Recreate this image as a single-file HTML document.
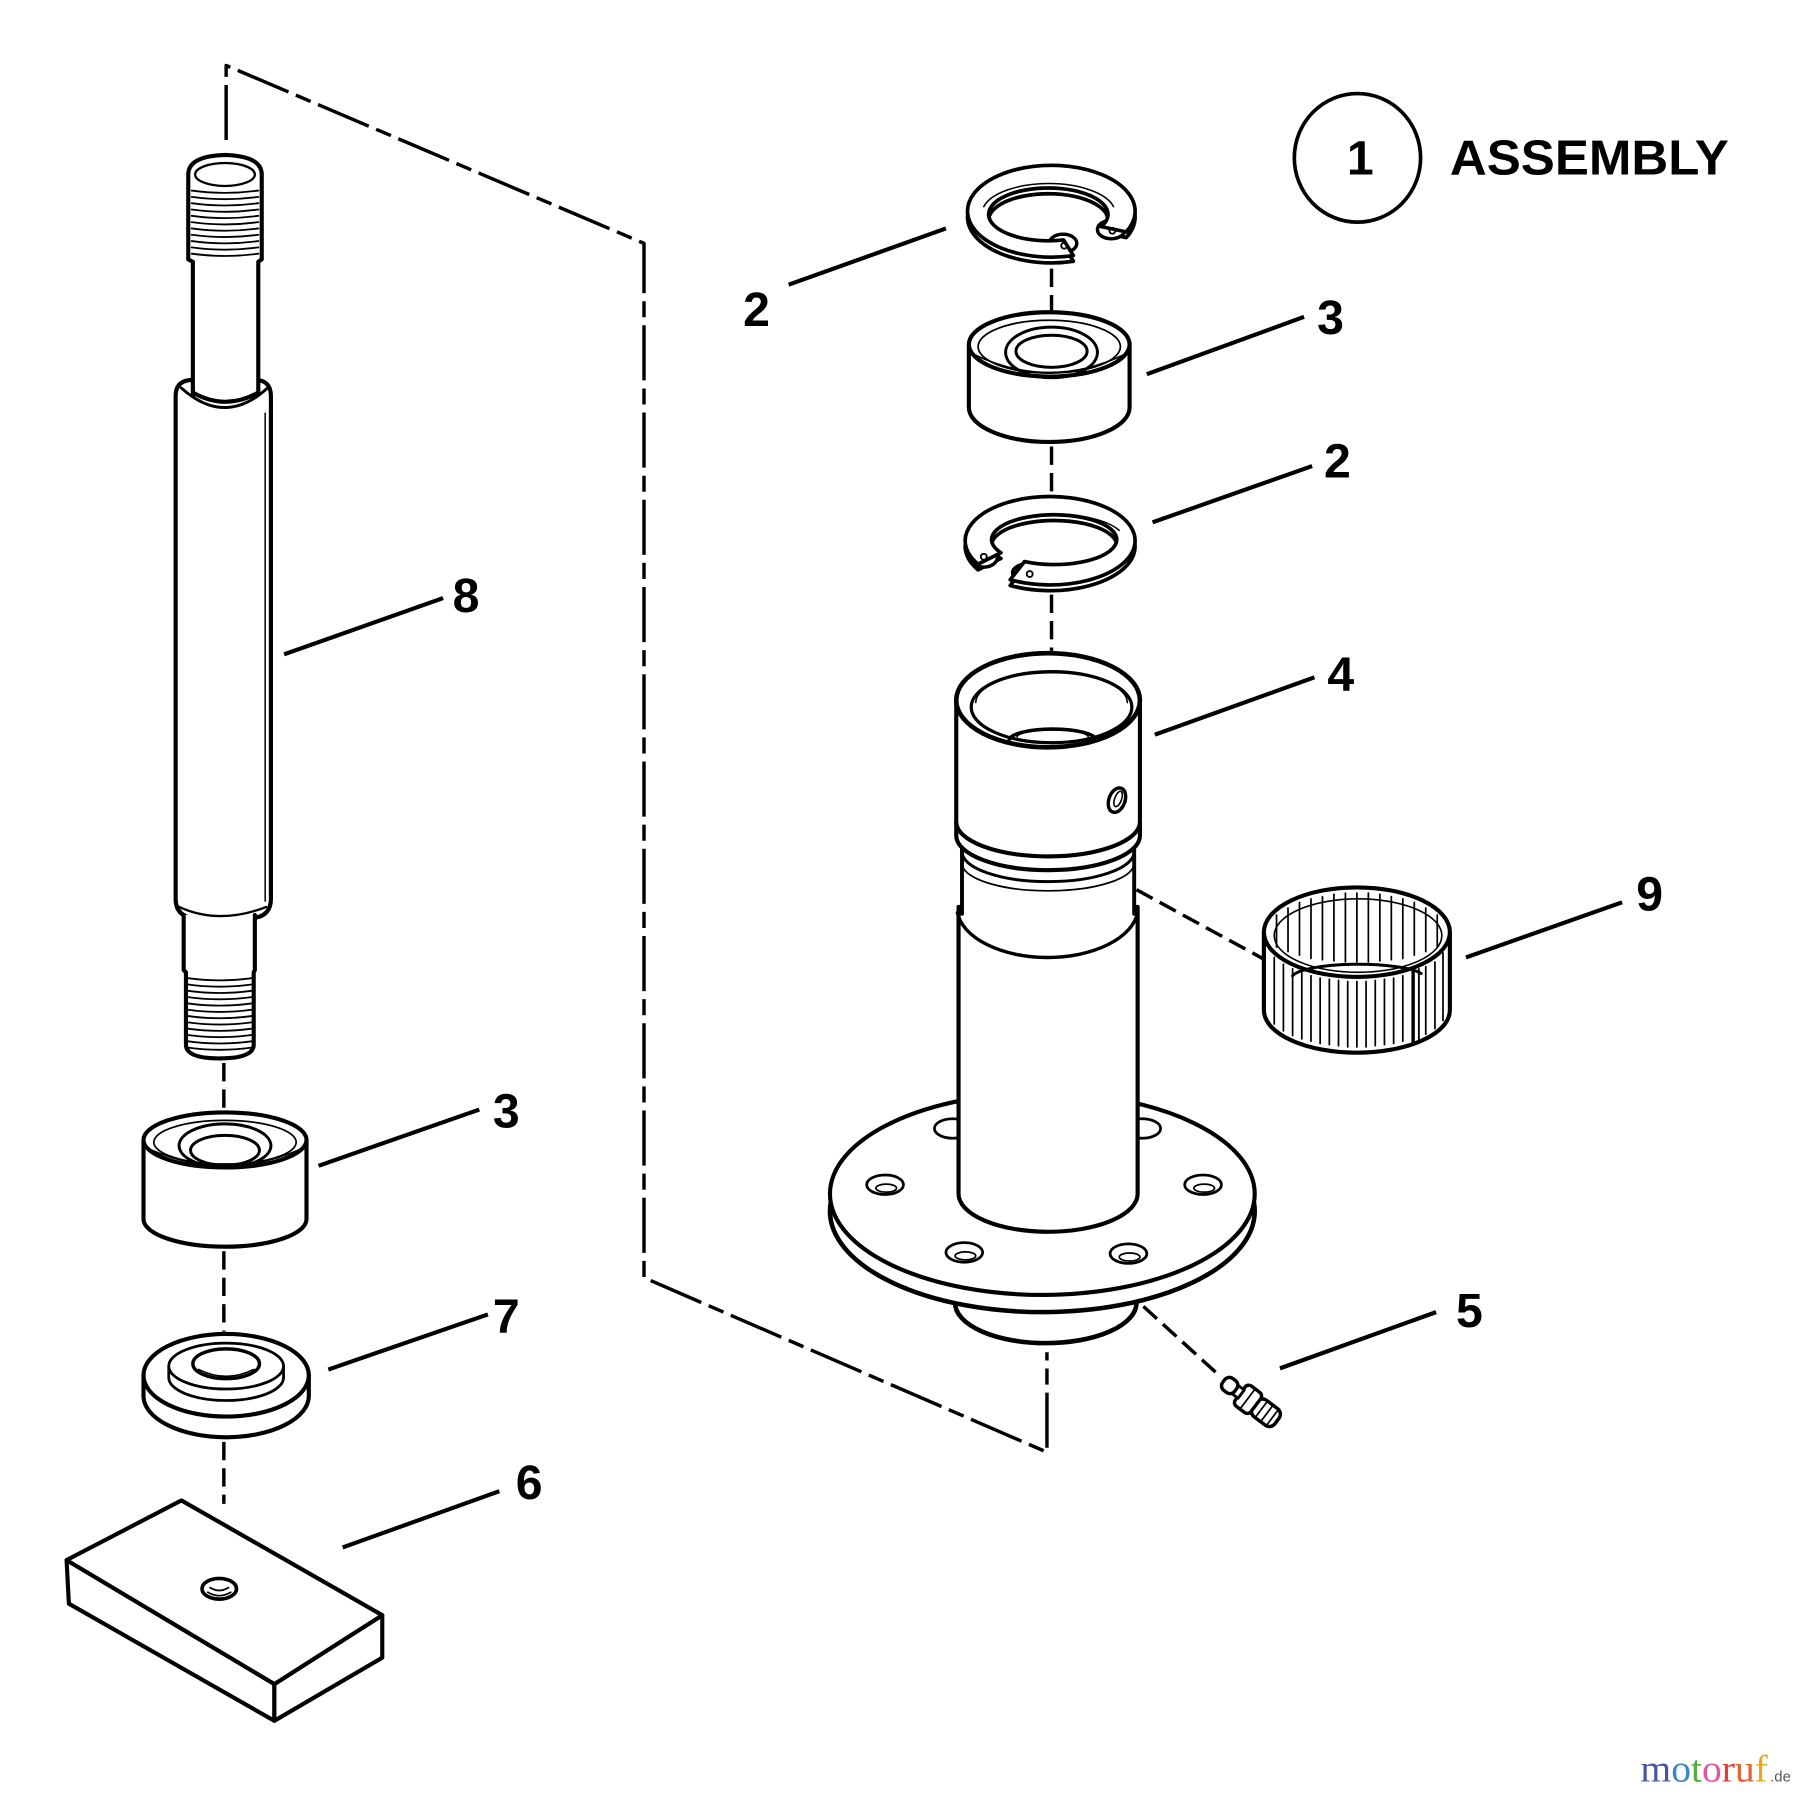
<!DOCTYPE html>
<html><head><meta charset="utf-8">
<style>
html,body{margin:0;padding:0;background:#fff;}
svg{display:block;}
text{font-family:"Liberation Sans",Arial,sans-serif;font-weight:bold;fill:#000;}
</style></head>
<body>
<svg width="1800" height="1796" viewBox="0 0 1568 1564.5" preserveAspectRatio="none" xmlns="http://www.w3.org/2000/svg">
<rect x="0" y="0" width="1568" height="1564.5" fill="#fff"/>
<g fill="none" stroke="#000" stroke-linecap="round" stroke-linejoin="round">

<!-- dashed frame -->
<path d="M197,122 L197,57 L561,212 L561,1113 L912,1265 L912,1178" stroke-width="3" stroke-dasharray="48 7 14 7" stroke-linecap="butt"/>

<!-- ===== SHAFT (8) ===== -->
<path d="M153,345 Q153,331 168,331 L222,331 Q236,331 236,345 L236,783 Q236,799 218,800 L171,800 Q153,799 153,783 Z" fill="#fff" stroke-width="3.6"/>
<line x1="231" y1="360" x2="231" y2="785" stroke-width="1.3"/>
<path d="M158,338 Q196,372 233,338" stroke-width="2.5"/>
<path d="M168,345 L168,228 L164,226 L164,152 Q164,136 196,135 Q228,136 228,152 L228,226 L225,228 L225,342 Q196,358 168,342 Z" fill="#fff" stroke-width="3.6"/>
<ellipse cx="196" cy="152" rx="26" ry="10" stroke-width="2"/>
<g stroke-width="1.6">
<path d="M167,166 Q196,170 225,166"/><path d="M167,171.5 Q196,175.5 225,171.5"/><path d="M167,177 Q196,181 225,177"/><path d="M167,182.5 Q196,186.5 225,182.5"/><path d="M167,188 Q196,192 225,188"/><path d="M167,193.5 Q196,197.5 225,193.5"/><path d="M167,199 Q196,203 225,199"/><path d="M167,204.5 Q196,208.5 225,204.5"/><path d="M167,210 Q196,214 225,210"/><path d="M167,215.5 Q196,219.5 225,215.5"/><path d="M167,221 Q196,225 225,221"/>
</g>
<path d="M160,797 L160,845 L162,847 L162,910 Q162,922 191,922 Q221,922 221,910 L221,847 L222,845 L222,797" fill="#fff" stroke-width="3.6"/>
<path d="M156,790 Q191,806 232,790" stroke-width="2"/>
<g stroke-width="1.6">
<path d="M163,852 Q191,856 220,852"/><path d="M163,857.5 Q191,861.5 220,857.5"/><path d="M163,863 Q191,867 220,863"/><path d="M163,868.5 Q191,872.5 220,868.5"/><path d="M163,874 Q191,878 220,874"/><path d="M163,879.5 Q191,883.5 220,879.5"/><path d="M163,885 Q191,889 220,885"/><path d="M163,890.5 Q191,894.5 220,890.5"/><path d="M163,896 Q191,900 220,896"/><path d="M163,901.5 Q191,905.5 220,901.5"/><path d="M163,907 Q191,911 220,907"/><path d="M163,912.5 Q191,916.5 220,912.5"/>
</g>

<!-- left column dashed -->
<g stroke-width="3" stroke-dasharray="16 7" stroke-linecap="butt">
<line x1="195" y1="926" x2="195" y2="968"/>
<line x1="195" y1="1090" x2="195" y2="1160"/>
<line x1="195" y1="1256" x2="195" y2="1310"/>
</g>

<!-- bearing 3 left -->
<path d="M125,993 L125,1062 A71,24 0 0,0 267,1062 L267,993" fill="#fff" stroke-width="3.6"/>
<ellipse cx="196" cy="993" rx="71" ry="24" fill="#fff" stroke-width="3.6"/>
<path d="M130,1001 Q196,1030 262,1001" stroke-width="1.5"/>
<ellipse cx="196" cy="995" rx="62" ry="19" stroke-width="1.5"/>
<ellipse cx="196" cy="998" rx="40" ry="19" stroke-width="2.6"/>
<ellipse cx="196" cy="1002" rx="30" ry="13" stroke-width="2.6"/>

<!-- part 7 -->
<path d="M125,1198 L125,1216 A72,36 0 0,0 269,1216 L269,1198" fill="#fff" stroke-width="3.6"/>
<ellipse cx="197" cy="1198" rx="72" ry="36" fill="#fff" stroke-width="3.6"/>
<path d="M147,1190 L147,1200 A50,20 0 0,0 247,1200 L247,1190" fill="#fff" stroke-width="2.4"/>
<ellipse cx="197" cy="1190" rx="50" ry="20" fill="#fff" stroke-width="2.4"/>
<ellipse cx="197" cy="1188" rx="29" ry="13" stroke-width="3"/>
<path d="M173,1193 Q197,1205 221,1193" stroke-width="1.5"/>

<!-- part 6 block -->
<path d="M58,1359 L239,1467 L239,1499 L60,1397 Z" fill="#fff" stroke-width="3.6"/>
<path d="M239,1467 L333,1407 L333,1444 L239,1499 Z" fill="#fff" stroke-width="3.6"/>
<path d="M58,1359 L158,1307 L333,1407 L239,1467 Z" fill="#fff" stroke-width="3.6"/>
<ellipse cx="191" cy="1384" rx="15" ry="9" stroke-width="3.2"/>
<path d="M181,1387 Q191,1393 201,1387 M183,1383 Q191,1388 199,1383" stroke-width="1.5"/>

<!-- ===== RIGHT COLUMN ===== -->
<g stroke-width="3" stroke-dasharray="16 7" stroke-linecap="butt">
<line x1="916" y1="234" x2="916" y2="271"/>
<line x1="916" y1="389" x2="916" y2="432"/>
<line x1="916" y1="518" x2="916" y2="567"/>
<line x1="990" y1="775" x2="1100" y2="835"/>
<line x1="996" y1="1138" x2="1063" y2="1199"/>
</g>

<!-- ring 2 top -->
<g transform="translate(0,5)">
<path d="M935,222.6 A73,40 0 1,1 981,202 L959.3,197.4 A52,23 0 1,0 926.5,209 Z" fill="#fff" stroke-width="3.2"/>
</g>
<ellipse cx="926" cy="212" rx="12" ry="8" fill="#fff" stroke-width="3"/>
<ellipse cx="968" cy="200" rx="12" ry="8" fill="#fff" stroke-width="3"/>
<path d="M935,222.6 A73,40 0 1,1 981,202 L959.3,197.4 A52,23 0 1,0 926.5,209 Z" fill="#fff" stroke-width="3.2"/>
<path d="M857,180 A58,26 0 0,1 970,180" stroke-width="1.3"/>
<circle cx="927" cy="214" r="2.6" stroke-width="1.6"/>
<circle cx="969" cy="201" r="2.6" stroke-width="1.6"/>

<!-- bearing 3 top -->
<path d="M844,300 L844,355 A70,30 0 0,0 984,355 L984,300" fill="#fff" stroke-width="3.6"/>
<ellipse cx="914" cy="300" rx="70" ry="28" fill="#fff" stroke-width="3.6"/>
<path d="M849,309 Q914,340 979,309" stroke-width="1.5"/>
<ellipse cx="914" cy="302" rx="62" ry="23" stroke-width="1.5"/>
<ellipse cx="916" cy="307" rx="40" ry="22" stroke-width="2.6"/>
<ellipse cx="916" cy="306" rx="31" ry="14" stroke-width="2.6"/>

<!-- ring 2 middle -->
<g transform="translate(0,5)">
<path d="M880,505 A74,38.5 0 1,0 852,491.4 L871.9,481.5 A54.5,21.7 0 1,1 892.4,489.2 Z" fill="#fff" stroke-width="3.2"/>
</g>
<ellipse cx="857" cy="485" rx="12" ry="9" fill="#fff" stroke-width="3"/>
<ellipse cx="896" cy="499" rx="14" ry="8" fill="#fff" stroke-width="3"/>
<path d="M880,505 A74,38.5 0 1,0 852,491.4 L871.9,481.5 A54.5,21.7 0 1,1 892.4,489.2 Z" fill="#fff" stroke-width="3.2"/>
<path d="M872,458 A60,24 0 0,1 975,462" stroke-width="1.3"/>
<circle cx="857" cy="485" r="2.6" stroke-width="1.6"/>
<circle cx="897" cy="500" r="2.6" stroke-width="1.6"/>

<!-- ===== HUB (4) ===== -->
<path d="M832,1110 L832,1135 A79,35 0 0,0 990,1135 L990,1110 Z" fill="#fff" stroke-width="4"/>
<ellipse cx="908" cy="1055" rx="185" ry="88" fill="#fff" stroke-width="4"/>
<ellipse cx="908" cy="1040" rx="185" ry="88" fill="#fff" stroke-width="3.6"/>
<g stroke-width="2.4" fill="#fff">
<ellipse cx="771" cy="1032" rx="16" ry="8.5"/>
<ellipse cx="1048" cy="1032" rx="16" ry="8.5"/>
<ellipse cx="840" cy="1091" rx="16" ry="8.5"/>
<ellipse cx="983" cy="1092" rx="16" ry="8.5"/>
<ellipse cx="830" cy="983" rx="16" ry="8.5"/>
<ellipse cx="995" cy="983" rx="16" ry="8.5"/>
</g>
<g stroke-width="1.5">
<ellipse cx="772" cy="1035" rx="9" ry="3.5"/>
<ellipse cx="1049" cy="1035" rx="9" ry="3.5"/>
<ellipse cx="841" cy="1094" rx="9" ry="3.5"/>
<ellipse cx="984" cy="1095" rx="9" ry="3.5"/>
</g>
<!-- lower cylinder -->
<path d="M835,790 L835,1040 A78,33 0 0,0 991,1040 L991,790 Z" fill="#fff" stroke-width="3.6"/>
<!-- groove section -->
<path d="M838,735 L838,795 A75,42 0 0,0 988,795 L988,735 Z" fill="#fff" stroke="none"/>
<line x1="838" y1="735" x2="838" y2="796" stroke-width="3.4"/>
<line x1="988" y1="735" x2="988" y2="796" stroke-width="3.4"/>
<path d="M834,795 A79,44 0 0,0 991,795" stroke-width="3"/>
<path d="M838,742 A75,26 0 0,0 988,742" stroke-width="2.6"/>
<path d="M838,752 A75,24 0 0,0 988,752" stroke-width="1.5"/>
<!-- collar -->
<path d="M833,716 L833,728 A80,30 0 0,0 993,728 L993,716 Z" fill="#fff" stroke-width="3.6"/>
<!-- upper cylinder -->
<path d="M833,610 L833,716 A80,30 0 0,0 993,716 L993,610 Z" fill="#fff" stroke-width="3.6"/>
<ellipse cx="913" cy="610" rx="80" ry="41" fill="#fff" stroke-width="4"/>
<ellipse cx="916" cy="616" rx="70" ry="31" stroke-width="2.8"/>
<path d="M850,612 A66,26 0 0,1 982,612" stroke-width="1.4"/>
<path d="M879,645 A38,10 0 0,1 955,645" stroke-width="3"/>
<path d="M886,642 A31,6 0 0,1 948,642" stroke-width="1.4"/>
<ellipse cx="973" cy="697" rx="7" ry="11" transform="rotate(20 973 697)" stroke-width="3"/>
<ellipse cx="974" cy="696" rx="3" ry="7" transform="rotate(20 974 696)" stroke-width="1.4"/>

<!-- ===== PART 9 needle bearing ===== -->
<path d="M1101,812 L1101,880 A81,37 0 0,0 1263,880 L1263,812" fill="#fff" stroke-width="3.6"/>
<ellipse cx="1182" cy="812" rx="81" ry="39" fill="#fff" stroke-width="3.6"/>
<ellipse cx="1183" cy="815" rx="73" ry="32" stroke-width="1.4"/>
<path d="M1126,850 A58,12 0 0,1 1238,848" stroke-width="2.6"/>
<g stroke-width="1.5">
<line x1="1112" y1="797" x2="1112" y2="825"/><line x1="1122" y1="791" x2="1122" y2="829"/><line x1="1132" y1="786" x2="1132" y2="832"/><line x1="1142" y1="783" x2="1142" y2="835"/><line x1="1152" y1="781" x2="1152" y2="836"/><line x1="1162" y1="779" x2="1162" y2="837"/><line x1="1172" y1="778" x2="1172" y2="838"/><line x1="1182" y1="778" x2="1182" y2="838"/><line x1="1192" y1="778" x2="1192" y2="838"/><line x1="1202" y1="779" x2="1202" y2="837"/><line x1="1212" y1="781" x2="1212" y2="836"/><line x1="1222" y1="783" x2="1222" y2="835"/><line x1="1232" y1="786" x2="1232" y2="832"/><line x1="1242" y1="791" x2="1242" y2="829"/><line x1="1252" y1="797" x2="1252" y2="825"/>
<line x1="1110" y1="834" x2="1110" y2="892"/><line x1="1118" y1="840" x2="1118" y2="898"/><line x1="1126" y1="844" x2="1126" y2="902"/><line x1="1134" y1="847" x2="1134" y2="905"/><line x1="1142" y1="850" x2="1142" y2="907"/><line x1="1150" y1="852" x2="1150" y2="909"/><line x1="1158" y1="853" x2="1158" y2="910"/><line x1="1166" y1="854" x2="1166" y2="911"/><line x1="1174" y1="855" x2="1174" y2="912"/><line x1="1182" y1="855" x2="1182" y2="912"/><line x1="1190" y1="855" x2="1190" y2="912"/><line x1="1198" y1="854" x2="1198" y2="911"/><line x1="1206" y1="853" x2="1206" y2="910"/><line x1="1214" y1="852" x2="1214" y2="909"/><line x1="1222" y1="850" x2="1222" y2="907"/><line x1="1242" y1="842" x2="1242" y2="901"/><line x1="1250" y1="838" x2="1250" y2="896"/><line x1="1257" y1="830" x2="1257" y2="889"/>
</g>
<line x1="1231" y1="846" x2="1231" y2="908" stroke-width="3"/>
<line x1="1236" y1="844" x2="1236" y2="906" stroke-width="1.6"/>

<!-- ===== PART 5 grease fitting ===== -->
<g transform="translate(1066,1203) rotate(37)" fill="#fff">
<rect x="34" y="-9" width="24" height="18" rx="6" stroke-width="3"/>
<line x1="41" y1="-9" x2="41" y2="9" stroke-width="1.5"/>
<line x1="47" y1="-9" x2="47" y2="9" stroke-width="1.5"/>
<line x1="53" y1="-9" x2="53" y2="9" stroke-width="1.5"/>
<rect x="18" y="-11" width="17" height="22" rx="4" stroke-width="3"/>
<line x1="26" y1="-11" x2="26" y2="11" stroke-width="1.5"/>
<rect x="11" y="-4.5" width="8" height="9" stroke-width="2.5"/>
<rect x="0" y="-6.5" width="13" height="13" rx="5" stroke-width="3"/>
</g>

<!-- ===== LEADER LINES ===== -->
<g stroke-width="3.6" stroke-linecap="butt">
<line x1="247.5" y1="570" x2="386" y2="521"/>
<line x1="277.5" y1="1015.5" x2="417.5" y2="966.5"/>
<line x1="286" y1="1193" x2="425" y2="1145"/>
<line x1="298.5" y1="1348" x2="435" y2="1299"/>
<line x1="687" y1="248" x2="824" y2="199"/>
<line x1="999" y1="326" x2="1136" y2="276"/>
<line x1="1004" y1="455" x2="1143" y2="406"/>
<line x1="1006" y1="640" x2="1145" y2="590"/>
<line x1="1277" y1="834" x2="1413" y2="786"/>
<line x1="1115" y1="1192" x2="1251" y2="1143"/>
</g>

<ellipse cx="1182.5" cy="137.5" rx="55" ry="56" stroke-width="3.2"/>
</g>

<!-- labels -->
<g font-size="42" text-anchor="middle">
<text x="406" y="533">8</text>
<text x="441" y="982">3</text>
<text x="441" y="1161">7</text>
<text x="461" y="1306">6</text>
<text x="659" y="284">2</text>
<text x="1159" y="291">3</text>
<text x="1165" y="416">2</text>
<text x="1168" y="602">4</text>
<text x="1437" y="793">9</text>
<text x="1280" y="1156">5</text>
<text x="1185" y="152">1</text>
</g>
<text x="1263" y="152" font-size="43" textLength="243" lengthAdjust="spacingAndGlyphs">ASSEMBLY</text>

<!-- watermark -->
<text x="1429" y="1552" font-size="33" textLength="111" lengthAdjust="spacingAndGlyphs" style="font-family:'Liberation Serif',serif;font-weight:normal;"><tspan fill="#4b55a5">m</tspan><tspan fill="#3d86c6">o</tspan><tspan fill="#5aaa3c">t</tspan><tspan fill="#e0569a">o</tspan><tspan fill="#d9413a">r</tspan><tspan fill="#e0632e">u</tspan><tspan fill="#e8a820">f</tspan></text>
<text x="1542" y="1552" font-size="13" style="font-family:'Liberation Sans',sans-serif;font-weight:normal;fill:#555;">.de</text>
</svg>
</body></html>
